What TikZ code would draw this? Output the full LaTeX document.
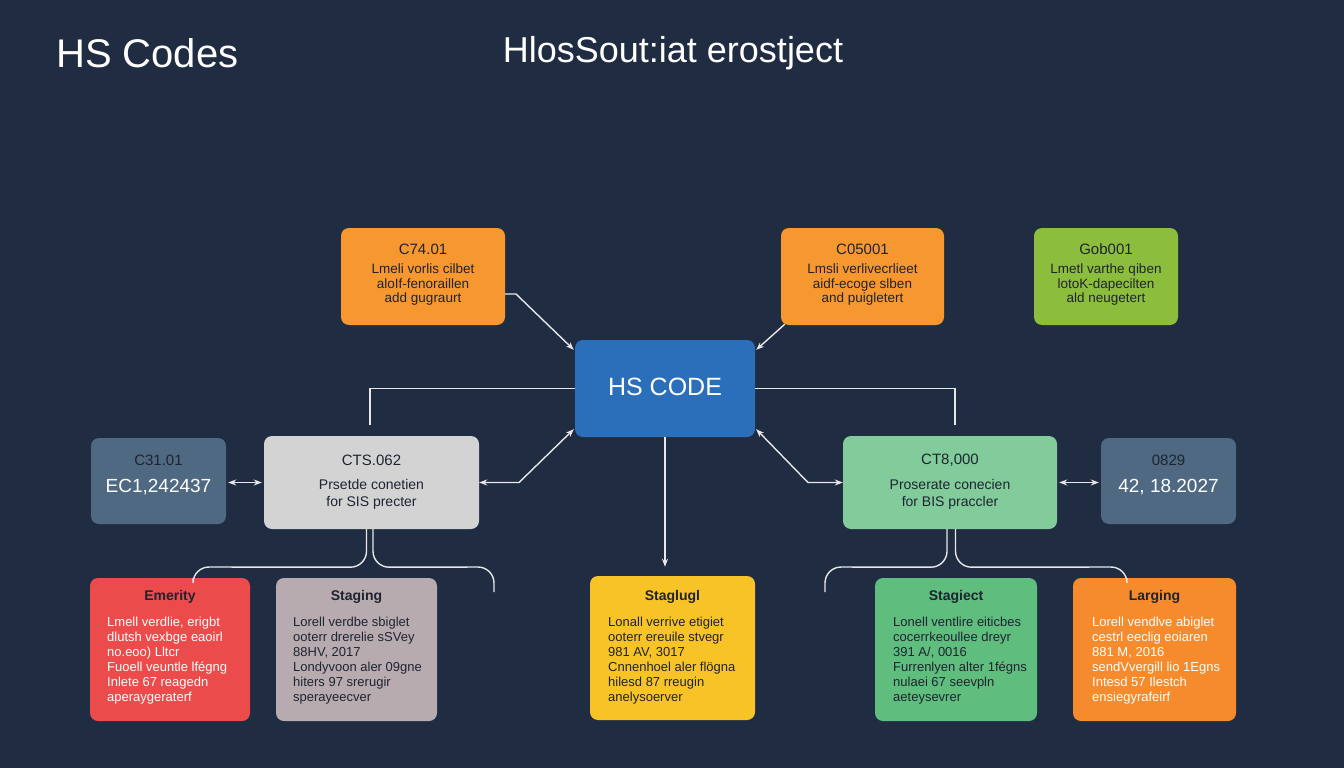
\documentclass[tikz,border=0pt]{standalone}
\usepackage{fontspec}
\setmainfont{Liberation Sans}
\usetikzlibrary{arrows.meta,calc}
\definecolor{bgc}{HTML}{1F2C41}
\definecolor{orgA}{HTML}{F7972F}
\definecolor{grnA}{HTML}{8DBD3C}
\definecolor{bluA}{HTML}{2B6FBA}
\definecolor{sltA}{HTML}{4F6982}
\definecolor{gryA}{HTML}{D3D3D3}
\definecolor{grnB}{HTML}{82CC9B}
\definecolor{redA}{HTML}{EB4B4A}
\definecolor{mauA}{HTML}{B8ABAF}
\definecolor{yelA}{HTML}{F8C327}
\definecolor{grnC}{HTML}{5FBD7E}
\definecolor{orgB}{HTML}{F58B2D}
\definecolor{txtD}{HTML}{1E2430}
\definecolor{lnc}{HTML}{E8E8E8}
\tikzset{
  card/.style={rounded corners=8pt, inner sep=0pt, draw=none},
  ttl/.style={font=\fontsize{15}{17}\selectfont, text=txtD, inner sep=0pt},
  btl/.style={font=\bfseries\fontsize{14}{16}\selectfont, text=txtD, inner sep=0pt},
  bodyc/.style={font=\fontsize{13.5}{14.5}\selectfont, align=center, text=txtD, inner sep=0pt},
  bodyl/.style={font=\fontsize{13}{15}\selectfont, align=left, text=txtD, inner sep=0pt, anchor=west},
  conn/.style={draw=lnc, line width=1.4pt},
  tip/.style={-{Stealth[length=8pt,width=6pt]}},
  tips/.style={{Stealth[length=8pt,width=6pt]}-{Stealth[length=8pt,width=6pt]}},
  branch/.style={conn, rounded corners=16pt}
}
\begin{document}
\begin{tikzpicture}[x=1pt,y=-1pt]
\fill[bgc] (0,0) rectangle (1344,768);
\useasboundingbox (0,0) rectangle (1344,768);

% titles
\node[anchor=base west, text=white, font=\fontsize{40}{44}\selectfont, inner sep=0pt] (t1) at (56,67) {HS Codes};
\node[anchor=base, text=white, font=\fontsize{36}{40}\selectfont, inner sep=0pt] (t2) at (673,63) {HlosSout:iat erostject};

% top row
\node[card, fill=orgA, minimum width=164pt, minimum height=97pt] (c74) at (423,276.5) {};
\node[ttl] (c74t) at (423,249) {C74.01};
\node[bodyc] (c74b) at (423,285) {Lmeli vorlis cilbet\\aloIf-fenoraillen\\add gugraurt};

\node[card, fill=orgA, minimum width=163pt, minimum height=97pt] (c05) at (862.5,276.5) {};
\node[ttl] (c05t) at (862.5,249) {C05001};
\node[bodyc] (c05b) at (862.5,285) {Lmsli verlivecrlieet\\aidf-ecoge slben\\and puigletert};

\node[card, fill=grnA, minimum width=144pt, minimum height=97pt] (gob) at (1106,276.5) {};
\node[ttl] (gobt) at (1106,249) {Gob001};
\node[bodyc] (gobb) at (1106,285) {Lmetl varthe qiben\\lotoK-dapecilten\\ald neugetert};

% center
\node[card, fill=bluA, minimum width=180pt, minimum height=97pt] (hs) at (665,388.5) {};
\node[text=white, font=\fontsize{25}{28}\selectfont, inner sep=0pt] (hst) at (665,387) {HS CODE};

% middle row
\node[card, fill=sltA, minimum width=135pt, minimum height=86pt] (c31) at (158.5,481) {};
\node[ttl] (c31t) at (158.5,460) {C31.01};
\node[text=white, font=\fontsize{19}{21}\selectfont, inner sep=0pt] (c31b) at (158.5,487) {EC1,242437};

\node[card, fill=gryA, minimum width=215pt, minimum height=93pt] (cts) at (371.5,482.5) {};
\node[ttl] (ctst) at (371.5,460) {CTS.062};
\node[bodyc, font=\fontsize{14}{17}\selectfont] (ctsb) at (371.5,494) {Prsetde conetien\\for SIS precter};

\node[card, fill=grnB, minimum width=214pt, minimum height=93pt] (ct8) at (950,482.5) {};
\node[ttl] (ct8t) at (950,460) {CT8,000};
\node[bodyc, font=\fontsize{14}{17}\selectfont] (ct8b) at (950,494) {Proserate conecien\\for BIS praccler};

\node[card, fill=sltA, minimum width=135pt, minimum height=86pt] (o829) at (1168.5,481) {};
\node[ttl] (o829t) at (1168.5,460) {0829};
\node[text=white, font=\fontsize{19}{21}\selectfont, inner sep=0pt] (o829b) at (1168.5,487) {42, 18.2027};

% bottom row
\node[card, fill=redA, minimum width=160pt, minimum height=143pt] (eme) at (170,649.5) {};
\node[btl] (emet) at (170,597) {Emerity};
\node[bodyl, text=white] (emeb1) at (107,638) {Lmell verdlie, erigbt\\dlutsh vexbge eaoirl\\no.eoo) Lltcr};
\node[bodyl, text=white] (emeb2) at (107,683) {Fuoell veuntle lfégng\\Inlete 67 reagedn\\aperaygeraterf};

\node[card, fill=mauA, minimum width=161pt, minimum height=143pt] (stg) at (356.5,649.5) {};
\node[btl] (stgt) at (356.5,597) {Staging};
\node[bodyl] (stgb1) at (293,638) {Lorell verdbe sbiglet\\ooterr drerelie sSVey\\88HV, 2017};
\node[bodyl] (stgb2) at (293,683) {Londyvoon aler 09gne\\hiters 97 srerugir\\sperayeecver};

\node[card, fill=yelA, minimum width=165pt, minimum height=144pt] (yel) at (672.5,648) {};
\node[btl] (yelt) at (672.5,597) {Staglugl};
\node[bodyl] (yelb1) at (608,638) {Lonall verrive etigiet\\ooterr ereuile stvegr\\981 AV, 3017};
\node[bodyl] (yelb2) at (608,683) {Cnnenhoel aler flögna\\hilesd 87 rreugin\\anelysoerver};

\node[card, fill=grnC, minimum width=162pt, minimum height=143pt] (sgc) at (956,649.5) {};
\node[btl] (sgct) at (956,597) {Stagiect};
\node[bodyl] (sgcb1) at (893,638) {Lonell ventlire eiticbes\\cocerrkeoullee dreyr\\391 A/, 0016};
\node[bodyl] (sgcb2) at (893,683) {Furrenlyen alter 1fégns\\nulaei 67 seevpln\\aeteysevrer};

\node[card, fill=orgB, minimum width=163pt, minimum height=143pt] (lar) at (1154.5,649.5) {};
\node[btl] (lart) at (1154.5,597) {Larging};
\node[bodyl, text=white] (larb1) at (1092,638) {Lorell vendlve abiglet\\cestrl eeclig eoiaren\\881 M, 2016};
\node[bodyl, text=white] (larb2) at (1092,683) {sendVvergill lio 1Egns\\Intesd 57 Ilestch\\ensiegyrafeirf};

% connectors
\coordinate (k74) at (516,294);
\draw[conn, tip] ($(c74.east)+(0,17.5)$) -- (k74) -- ($(hs.north west)+(-1,10)$);
\draw[conn, tip] ($(c05.south west)+(4,-1)$) -- ($(hs.north east)+(1,10)$);

\coordinate (hsl) at (370,425);
\coordinate (hsr) at (955,425);
\draw[conn] (hs.west) -| (hsl);
\draw[conn] (hs.east) -| (hsr);

\coordinate (kl) at (519,482.5);
\coordinate (kr) at (808,482.5);
\draw[conn, tips] (cts.east) -- (kl) -- ($(hs.south west)+(-1,-8)$);
\draw[conn, tips] (ct8.west) -- (kr) -- ($(hs.south east)+(1,-8)$);

\draw[conn, tip] (hs.south) -- ($(hs.south |- yel.north)+(0,-9)$);

\draw[conn, tips] ($(c31.east)+(2,1.5)$) -- ($(cts.west)+(-2,0)$);
\draw[conn, tips] ($(ct8.east)+(2,0)$) -- ($(o829.west)+(-2,1.5)$);

% branches under CTS.062
\coordinate (bl1) at (193,578);
\coordinate (bl2) at (494,592);
\draw[branch] ($(cts.south)+(-5,0)$) -- ++(0,38) -- (193,567) -- (bl1);
\draw[branch] ($(cts.south)+(1.5,0)$) -- ++(0,38) -- (494,567) -- (bl2);

% branches under CT8,000
\coordinate (br1) at (825,592);
\coordinate (br2) at (1127,578);
\draw[branch] ($(ct8.south)+(-3,0)$) -- ++(0,38) -- (825,567) -- (br1);
\draw[branch] ($(ct8.south)+(5.5,0)$) -- ++(0,38) -- (1127,567) -- (br2);
\end{tikzpicture}
\end{document}
